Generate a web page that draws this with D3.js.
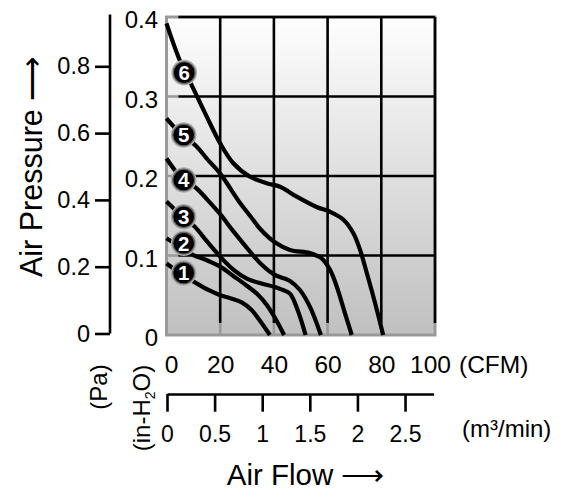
<!DOCTYPE html>
<html><head><meta charset="utf-8">
<script src="https://cdn.jsdelivr.net/npm/d3@7"></script>
<style>
html,body{margin:0;padding:0;background:#fff;}
svg{display:block;font-family:"Liberation Sans",Arial,sans-serif;}
</style></head>
<body><svg id="c" width="571" height="490"></svg>
<script>
// ---- data ----
const cfmTicks = [0, 20, 40, 60, 80, 100];
const inh2oTicks = [0, 0.1, 0.2, 0.3, 0.4];
const paTicks = [0, 0.2, 0.4, 0.6, 0.8];
const m3Ticks = [0, 0.5, 1, 1.5, 2, 2.5];

const curve1Flow = [0, 5, 11.2, 16, 20, 24, 28, 31.5, 35, 38.5];
const curve1Pres = [0.090, 0.078, 0.065, 0.056, 0.050, 0.046, 0.041, 0.032, 0.017, 0];
const curve2Flow = [0, 5, 10, 15, 20, 25, 29.9, 34, 37.3, 41, 43.8];
const curve2Pres = [0.1216, 0.111, 0.1006, 0.094, 0.086, 0.074, 0.062, 0.051, 0.038, 0.018, 0];
const curve3Flow = [0, 5, 10.6, 15, 20, 25, 29.9, 35, 39.8, 43, 46, 49, 51.8];
const curve3Pres = [0.168, 0.152, 0.136, 0.118, 0.0985, 0.082, 0.071, 0.065, 0.061, 0.057, 0.052, 0.030, 0];
const curve4Flow = [0, 5, 11.2, 15, 20, 25, 31.1, 35, 40.2, 44, 46, 49.7, 53.4, 57.5];
const curve4Pres = [0.222, 0.200, 0.1845, 0.171, 0.152, 0.130, 0.105, 0.090, 0.076, 0.071, 0.068, 0.0566, 0.0356, 0];
const curve5Flow = [0, 5, 11.2, 15, 20, 27.4, 31.1, 35, 40.2, 46, 53.4, 57.8, 60.9, 63.4, 66.5, 69];
const curve5Pres = [0.2725, 0.254, 0.237, 0.222, 0.203, 0.166, 0.150, 0.133, 0.117, 0.107, 0.103, 0.0965, 0.082, 0.061, 0.027, 0];
const curve6Flow = [0, 5, 10, 15, 20, 24.9, 31.1, 37.3, 42.3, 48.5, 55.9, 60.9, 65.9, 69.6, 72.1, 74.6, 77.7, 80.7];
const curve6Pres = [0.392, 0.345, 0.310, 0.2746, 0.241, 0.216, 0.199, 0.191, 0.1865, 0.174, 0.161, 0.155, 0.145, 0.128, 0.107, 0.078, 0.040, 0];

const labelNames = ["1", "2", "3", "4", "5", "6"];
const labelFlow = [6.4, 6.4, 6.4, 6.4, 6.4, 6.6];
const labelPres = [0.078, 0.1155, 0.1488, 0.195, 0.2516, 0.330];

// ---- layout ----
const svg = d3.select("#c");
const x = d3.scaleLinear().domain([0, 100]).range([166.5, 435]);
const y = d3.scaleLinear().domain([0, 0.4]).range([335, 17]);
const yPa = d3.scaleLinear().domain([0, 1]).range([333.5, -0.5]);
const xM = d3.scaleLinear().domain([0, 2.8]).range([167, 433.6]);

const defs = svg.append("defs");
const grad = defs.append("linearGradient").attr("id", "bg").attr("x1", 0).attr("y1", 0).attr("x2", 0).attr("y2", 1);
grad.append("stop").attr("offset", "0%").attr("stop-color", "#fefefe");
grad.append("stop").attr("offset", "100%").attr("stop-color", "#c0c0c0");

// plot frame
svg.append("rect")
  .attr("x", x(0)).attr("y", y(0.4))
  .attr("width", x(100) - x(0)).attr("height", y(0) - y(0.4))
  .attr("fill", "url(#bg)").attr("stroke", "#999").attr("stroke-width", 3);

// grid
const gx0 = x(4.4), gyEnd = y(0.015);
const hv = inh2oTicks.filter(d => d > 0), vv = cfmTicks.filter(d => d > 0);
const grid = svg.append("g");
grid.selectAll("line.hgg").data(hv.filter(d => d < 0.4)).join("line")
  .attr("x1", x(0)).attr("x2", gx0).attr("y1", d => y(d)).attr("y2", d => y(d))
  .attr("stroke", "#9a9a9a").attr("stroke-width", 2.6);
grid.selectAll("line.vgg").data(vv.filter(d => d < 100)).join("line")
  .attr("x1", d => x(d)).attr("x2", d => x(d)).attr("y1", gyEnd).attr("y2", y(0))
  .attr("stroke", "#9a9a9a").attr("stroke-width", 2.6);
grid.selectAll("line.hg").data(hv).join("line")
  .attr("x1", gx0).attr("x2", x(100)).attr("y1", d => y(d)).attr("y2", d => y(d))
  .attr("stroke", "#000").attr("stroke-width", 2.6);
grid.selectAll("line.vg").data(vv).join("line")
  .attr("x1", d => x(d)).attr("x2", d => x(d)).attr("y1", y(0.4)).attr("y2", gyEnd)
  .attr("stroke", "#000").attr("stroke-width", 2.6);

// curves
const line = d3.line().x(d => x(d[0])).y(d => y(d[1])).curve(d3.curveCatmullRom.alpha(0.5));
const curves = [
  [curve1Flow, curve1Pres], [curve2Flow, curve2Pres], [curve3Flow, curve3Pres],
  [curve4Flow, curve4Pres], [curve5Flow, curve5Pres], [curve6Flow, curve6Pres]
];
svg.append("g").selectAll("path").data(curves).join("path")
  .attr("d", c => line(d3.zip(c[0], c[1])))
  .attr("fill", "none").attr("stroke", "#000").attr("stroke-width", 4.2);

// curve labels
const lg = svg.append("g").selectAll("g").data(labelNames).join("g")
  .attr("transform", (d, i) => `translate(${x(labelFlow[i])},${y(labelPres[i])})`);
lg.append("circle").attr("r", 12.8).attr("fill", "#b0b0b0");
lg.append("circle").attr("r", 10.9).attr("fill", "#000").attr("stroke", "#666").attr("stroke-width", 1.2);
lg.append("text").text(d => d).attr("text-anchor", "middle").attr("dy", "0.36em")
  .attr("fill", "#fff").attr("font-size", 20.5).attr("font-weight", "bold");

// inner axis (in-H2O)
const axIn = svg.append("g").attr("transform", `translate(${x(0)},0)`)
  .call(d3.axisLeft(y).tickValues(inh2oTicks).tickSize(0).tickPadding(8.5).tickFormat(d3.format("")));
axIn.select(".domain").remove();
axIn.selectAll("text").attr("font-size", 24).attr("font-family", null).attr("dy", "0.45em").attr("fill", "#000");

// outer axis (Pa)
const axPa = svg.append("g").attr("transform", "translate(110,0)")
  .call(d3.axisLeft(yPa).tickValues(paTicks).tickSize(15).tickPadding(5).tickFormat(d3.format("")));
axPa.select(".domain").remove();
axPa.append("line").attr("x1", 0).attr("x2", 0).attr("y1", yPa(0)).attr("y2", yPa(0.955))
  .attr("stroke", "#000").attr("stroke-width", 2.6);
axPa.selectAll(".tick line").attr("stroke-width", 2.6);
axPa.selectAll("text").attr("font-size", 23.5).attr("font-family", null).attr("fill", "#000");

// bottom CFM axis
const axC = svg.append("g").attr("transform", `translate(0,${y(0)})`)
  .call(d3.axisBottom(x).tickValues(cfmTicks).tickSize(0).tickPadding(21).tickFormat(d3.format("")));
axC.select(".domain").remove();
axC.selectAll("text").attr("font-size", 24.5).attr("font-family", null).attr("fill", "#000")
  .attr("dx", d => d === 0 ? 4.5 : d === 100 ? -5 : 0);
svg.append("text").attr("x", 459).attr("y", 373).attr("font-size", 24.5).text("(CFM)");

// m3/min axis
const axM = svg.append("g").attr("transform", "translate(0,394)")
  .call(d3.axisBottom(xM).tickValues(m3Ticks).tickSize(17.7).tickSizeOuter(0).tickPadding(13.5).tickFormat(d3.format("")));
axM.select(".domain").attr("stroke-width", 2.6);
axM.selectAll(".tick line").attr("stroke-width", 2.6);
axM.selectAll("text").attr("font-size", 23).attr("font-family", null).attr("fill", "#000");
svg.append("text").attr("x", 462).attr("y", 437).attr("font-size", 24).text("(m³/min)");

// titles
svg.append("text").attr("transform", "translate(226.7,485)").attr("font-size", 29.5).text("Air Flow ⟶");
svg.append("text").attr("transform", "translate(42,277) rotate(-90)").attr("font-size", 30.5).text("Air Pressure ⟶");
svg.append("text").attr("transform", "translate(107,387) rotate(-90)").attr("font-size", 24)
  .attr("text-anchor", "middle").text("(Pa)");
const th = svg.append("text").attr("transform", "translate(150,408) rotate(-90)").attr("font-size", 24)
  .attr("text-anchor", "middle");
th.append("tspan").text("(in-H");
th.append("tspan").attr("font-size", 14).attr("dy", 5).text("2");
th.append("tspan").attr("dy", -5).text("O)");
</script></body></html>
